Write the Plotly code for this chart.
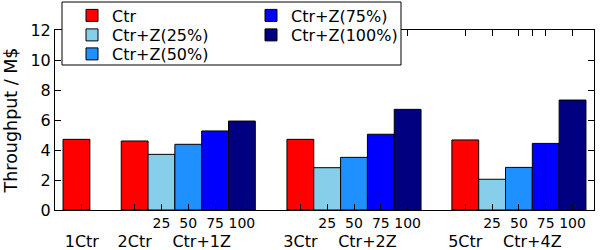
import plotly.graph_objects as go

# ---------------- data ----------------
ctr_labels = ["1Ctr", "2Ctr", "3Ctr", "5Ctr"]
zone_labels = ["Ctr+1Z", "Ctr+2Z", "Ctr+4Z"]
z_level_labels = ["25", "50", "75", "100"]
series_names = ["Ctr", "Ctr+Z(25%)", "Ctr+Z(50%)", "Ctr+Z(75%)", "Ctr+Z(100%)"]
ctr_values = [4.71, 4.60, 4.71, 4.67]
z25_values = [3.71, 2.82, 2.05]
z50_values = [4.38, 3.51, 2.84]
z75_values = [5.27, 5.05, 4.44]
z100_values = [5.93, 6.71, 7.33]
y_tick_values = [0, 2, 4, 6, 8, 10, 12]

# ---------------- layout constants ----------------
W, H = 600, 250
ML, MR, MT, MB = 55, 6, 30, 40
PW, PH = W - ML - MR, H - MT - MB
CTR_POS = [0.80, 2.97, 9.15, 15.30]      # centre of each Ctr bar (bar-width units)
CTR_TICK_POS = [1.0, 2.97, 9.15, 15.30]  # where the Ctr tick/label sits
X_RANGE = [0, 20.1]
BAR_W = 1.0
COLORS = ["#ff0000", "#87ceeb", "#1e90ff", "#0000ff", "#000080"]
FONT = "DejaVu Sans"
# legend entry slots (left px, top px): two columns like the reference
LEGEND_SLOTS = [(72, -1.5), (72, 18), (72, 37), (251, -1.5), (251, 18)]


def px_x(p):
    return (p - ML) / PW


def px_y(p):
    return (MT + PH - p) / PH


z_series = [z25_values, z50_values, z75_values, z100_values]
legend_ids = ["legend"] + ["legend%d" % (i + 1) for i in range(1, 5)]

fig = go.Figure()
fig.add_trace(go.Bar(
    x=CTR_POS, y=ctr_values, width=BAR_W, name=series_names[0],
    marker=dict(color=COLORS[0], line=dict(color="black", width=1)),
    legend=legend_ids[0],
))
for k, vals in enumerate(z_series):
    xs = [CTR_POS[i + 1] + k + 1 for i in range(len(vals))]
    fig.add_trace(go.Bar(
        x=xs, y=vals, width=BAR_W, name=series_names[k + 1],
        marker=dict(color=COLORS[k + 1], line=dict(color="black", width=1)),
        legend=legend_ids[k + 1],
    ))
# empty helper trace so the second (label-only) x axis is drawn
fig.add_trace(go.Scatter(x=[], y=[], xaxis="x2", yaxis="y", showlegend=False,
                         hoverinfo="skip"))

# first line of x tick labels (25/50/75/100) + all tick marks
tickvals, ticktext = [], []
for i, p in enumerate(CTR_TICK_POS):
    tickvals.append(p)
    ticktext.append("")
    if i > 0:
        for k, lab in enumerate(z_level_labels):
            tickvals.append(CTR_POS[i] + k + 1)
            ticktext.append(lab)
        tickvals.append(CTR_POS[i] + 2.5)
        ticktext.append("")

# second line of x tick labels
tick2vals, tick2text = [], []
for i, p in enumerate(CTR_TICK_POS):
    tick2vals.append(p)
    tick2text.append(ctr_labels[i])
    if i > 0:
        tick2vals.append(CTR_POS[i] + 2.5)
        tick2text.append(zone_labels[i - 1])

legends = {}
for lid, (lx, ly) in zip(legend_ids, LEGEND_SLOTS):
    legends[lid] = dict(
        x=px_x(lx), y=px_y(ly), xanchor="left", yanchor="top",
        bgcolor="rgba(0,0,0,0)", borderwidth=0,
        font=dict(family=FONT, size=16, color="black"),
    )

fig.update_layout(
    width=W, height=H,
    margin=dict(l=ML, r=MR, t=MT, b=MB, pad=0, autoexpand=False),
    paper_bgcolor="white", plot_bgcolor="white",
    barmode="overlay",
    font=dict(family=FONT, size=16, color="black"),
    xaxis=dict(
        range=X_RANGE, tickvals=tickvals, ticktext=ticktext,
        ticks="inside", ticklen=6, tickwidth=1, tickcolor="black",
        showline=True, linecolor="black", linewidth=1, mirror="ticks",
        showgrid=False, zeroline=False, automargin=False,
        tickfont=dict(family=FONT, size=14, color="black"),
        ticklabelstandoff=0,
    ),
    xaxis2=dict(
        range=X_RANGE, overlaying="x", anchor="y", side="bottom",
        tickvals=tick2vals, ticktext=tick2text, ticks="",
        showline=False, showgrid=False, zeroline=False, automargin=False,
        tickfont=dict(family=FONT, size=16, color="black"),
        ticklabelstandoff=20,
    ),
    yaxis=dict(
        range=[0, 12], tickvals=y_tick_values,
        ticks="inside", ticklen=6, tickwidth=1, tickcolor="black",
        showline=True, linecolor="black", linewidth=1, mirror="ticks",
        showgrid=False, zeroline=False, automargin=False,
        tickfont=dict(family=FONT, size=16, color="black"),
        title=dict(text="Throughput / M$", font=dict(family=FONT, size=17.5, color="black"),
                   standoff=8),
    ),
    shapes=[dict(
        type="rect", xref="paper", yref="paper",
        x0=px_x(62), x1=px_x(401), y0=px_y(65), y1=px_y(2),
        fillcolor="white", line=dict(color="black", width=1), layer="above",
    )],
    showlegend=True,
    **legends,
)

fig.write_html(
    "out.html",
    config={"displayModeBar": False},
    post_script="document.body.style.margin='0';document.body.style.padding='0';",
)
